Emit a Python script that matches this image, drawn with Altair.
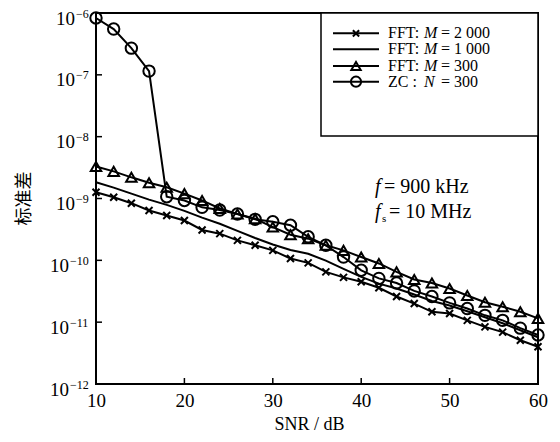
import altair as alt
import pandas as pd

# ---------------- data ----------------
snr = [10, 12, 14, 16, 18, 20, 22, 24, 26, 28, 30, 32, 34, 36, 38, 40,
       42, 44, 46, 48, 50, 52, 54, 56, 58, 60]

fft_2000 = [1.26e-9, 1.05e-9, 8.4e-10, 6.4e-10, 5.3e-10, 4.4e-10, 3.1e-10, 2.7e-10,
            2.1e-10, 1.75e-10, 1.45e-10, 1.07e-10, 9.1e-11, 6.5e-11, 5.3e-11, 4.5e-11,
            3.6e-11, 2.6e-11, 2.0e-11, 1.47e-11, 1.38e-11, 1.07e-11, 8.4e-12, 6.9e-12,
            5.1e-12, 4.0e-12]
fft_1000 = [1.83e-9, 1.5e-9, 1.2e-9, 9.6e-10, 7.9e-10, 6.3e-10, 4.9e-10, 3.9e-10,
            3.0e-10, 2.3e-10, 1.8e-10, 1.47e-10, 1.28e-10, 9.9e-11, 7.3e-11, 5.4e-11,
            4.2e-11, 3.5e-11, 2.8e-11, 2.2e-11, 1.86e-11, 1.5e-11, 1.2e-11, 9.6e-12,
            7.4e-12, 5.7e-12]
fft_300 = [3.3e-9, 2.75e-9, 2.2e-9, 1.8e-9, 1.52e-9, 1.2e-9, 9.3e-10, 6.9e-10,
           5.6e-10, 4.7e-10, 3.45e-10, 2.6e-10, 2.24e-10, 1.75e-10, 1.45e-10, 1.13e-10,
           8.9e-11, 6.5e-11, 4.9e-11, 4.3e-11, 3.5e-11, 2.7e-11, 2.1e-11, 1.78e-11,
           1.47e-11, 1.15e-11]
zc_300 = [8.3e-7, 5.5e-7, 2.7e-7, 1.15e-7, 1.07e-9, 9.3e-10, 7.2e-10, 6.5e-10,
          5.6e-10, 4.6e-10, 4.2e-10, 3.7e-10, 2.4e-10, 1.75e-10, 1.13e-10, 6.9e-11,
          5.1e-11, 4.3e-11, 3.2e-11, 2.6e-11, 2.05e-11, 1.66e-11, 1.29e-11, 1.07e-11,
          8.0e-12, 6.2e-12]

series_keys = ["fft2000", "fft1000", "fft300", "zc300"]
legend_prefix = ["FFT:", "FFT:", "FFT:", "ZC :"]
legend_var = ["M", "M", "M", "N"]
legend_suffix = ["= 2 000", "= 1 000", "= 300", "= 300"]

x_ticks = [10, 20, 30, 40, 50, 60]
y_ticks = [1e-12, 1e-11, 1e-10, 1e-9, 1e-8, 1e-7, 1e-6]
y_tick_base = ["10", "10", "10", "10", "10", "10", "10"]
y_tick_exp = ["−12", "−11", "−10", "−9", "−8", "−7", "−6"]

# ---------------- build table ----------------
rows = []
for key, vals in zip(series_keys, [fft_2000, fft_1000, fft_300, zc_300]):
    for s, v in zip(snr, vals):
        rows.append({"snr": s, "std": v, "series": key})
df = pd.DataFrame(rows)

W, H = 442, 371
FONT = "Liberation Serif"
CROSS = "M-1,-1L1,1M-1,1L1,-1"
marker_shape = {"fft2000": CROSS, "fft300": "triangle-up", "zc300": "circle"}
marker_size = {"fft2000": 49, "fft300": 110, "zc300": 130}

xscale = alt.Scale(domain=[10, 60], nice=False, zero=False)
yscale = alt.Scale(type="log", domain=[1e-12, 1e-6], nice=False)

x_enc = alt.X("snr:Q", scale=xscale, axis=alt.Axis(
    values=x_ticks, title="SNR / dB", ticks=False, domain=False, grid=False,
    labelFont=FONT, labelFontSize=19, labelPadding=7, labelColor="black",
    labelFlush=False,
    titleFont=FONT, titleFontSize=18, titleFontWeight="normal", titleColor="black",
    titleX=213, titleY=40, titleBaseline="middle", titleAlign="center"))
y_enc = alt.Y("std:Q", scale=yscale, axis=alt.Axis(
    values=y_ticks, labels=False, title="标准差", ticks=False, domain=False, grid=False,
    titleFont="Noto Sans CJK SC", titleFontSize=18, titleFontWeight="normal",
    titleColor="black", titleX=-72, titleY=185, titleAngle=-90,
    titleBaseline="middle", titleAlign="center"))
x_plain = alt.X("snr:Q", scale=xscale)
y_plain = alt.Y("std:Q", scale=yscale)

lines = alt.Chart(df).mark_line(color="black", strokeWidth=2).encode(
    x=x_enc, y=y_enc, detail="series:N")

layers = [lines]
for key in ["fft2000", "fft300", "zc300"]:
    layers.append(
        alt.Chart(df[df.series == key]).mark_point(
            shape=marker_shape[key], size=marker_size[key], filled=False,
            color="black", strokeWidth=2, opacity=1
        ).encode(x=x_plain, y=y_plain))

# inward ticks
xt = pd.DataFrame({"snr": x_ticks[1:-1]})
yt = pd.DataFrame({"std": y_ticks[1:-1]})
layers.append(alt.Chart(xt).mark_rule(color="black", strokeWidth=1.5).encode(
    x=x_plain, y=alt.value(H - 6), y2=alt.value(H)))
layers.append(alt.Chart(yt).mark_rule(color="black", strokeWidth=1.5).encode(
    y=y_plain, x=alt.value(0), x2=alt.value(6)))

# y tick labels: "10" with superscript exponent
ylab = pd.DataFrame({"std": y_ticks, "base": y_tick_base, "exp": y_tick_exp})
ylab["two"] = ylab["exp"].str.len() > 2
for two, xb, xe in [(False, -21, -20), (True, -27, -26)]:
    sub = ylab[ylab["two"] == two]
    layers.append(alt.Chart(sub).mark_text(
        align="right", baseline="middle", font=FONT, fontSize=19, color="black", dy=5.5
    ).encode(y=y_plain, x=alt.value(xb), text="base:N"))
    layers.append(alt.Chart(sub).mark_text(
        align="left", baseline="middle", font=FONT, fontSize=12, color="black", dy=0.5
    ).encode(y=y_plain, x=alt.value(xe), text="exp:N"))

# legend
one = pd.DataFrame({"a": [0]})
layers.append(alt.Chart(one).mark_rect(fill="white", stroke="black", strokeWidth=1.5).encode(
    x=alt.value(225), x2=alt.value(442), y=alt.value(0), y2=alt.value(123)))
row_y = [20.3, 36.3, 53, 68.7]
LFS = 16
for i, key in enumerate(series_keys):
    ry = row_y[i]
    layers.append(alt.Chart(one).mark_rule(color="black", strokeWidth=2).encode(
        x=alt.value(237), x2=alt.value(283), y=alt.value(ry)))
    if key in marker_shape:
        layers.append(alt.Chart(one).mark_point(
            shape=marker_shape[key], size=marker_size[key] * 0.8, filled=False,
            color="black", strokeWidth=2, opacity=1
        ).encode(x=alt.value(260), y=alt.value(ry)))
    layers.append(alt.Chart(one).mark_text(
        align="left", baseline="middle", font=FONT, fontSize=LFS, color="black"
    ).encode(x=alt.value(292), y=alt.value(ry), text=alt.value(legend_prefix[i])))
    layers.append(alt.Chart(one).mark_text(
        align="left", baseline="middle", font=FONT, fontSize=LFS, fontStyle="italic",
        color="black").encode(x=alt.value(328), y=alt.value(ry), text=alt.value(legend_var[i])))
    layers.append(alt.Chart(one).mark_text(
        align="left", baseline="middle", font=FONT, fontSize=LFS, color="black"
    ).encode(x=alt.value(345), y=alt.value(ry), text=alt.value(legend_suffix[i])))

# annotation
def txt(x, y, s, size=20, style="normal"):
    return alt.Chart(one).mark_text(
        align="left", baseline="middle", font=FONT, fontSize=size, fontStyle=style,
        color="black").encode(x=alt.value(x), y=alt.value(y), text=alt.value(s))

layers += [
    txt(279, 174, "f", style="italic"),
    txt(288, 174, "= 900 kHz"),
    txt(279, 199, "f", style="italic"),
    txt(286, 206, "s", size=11),
    txt(293, 199, "= 10 MHz"),
]

chart = alt.layer(*layers).properties(
    width=W, height=H,
    autosize=alt.AutoSizeParams(type="none"),
    padding={"left": 88, "top": 5, "right": 14, "bottom": 50},
    background="white",
).configure_view(stroke="black", strokeWidth=2)

chart.save("out.html", embed_options={"renderer": "svg", "actions": False})
